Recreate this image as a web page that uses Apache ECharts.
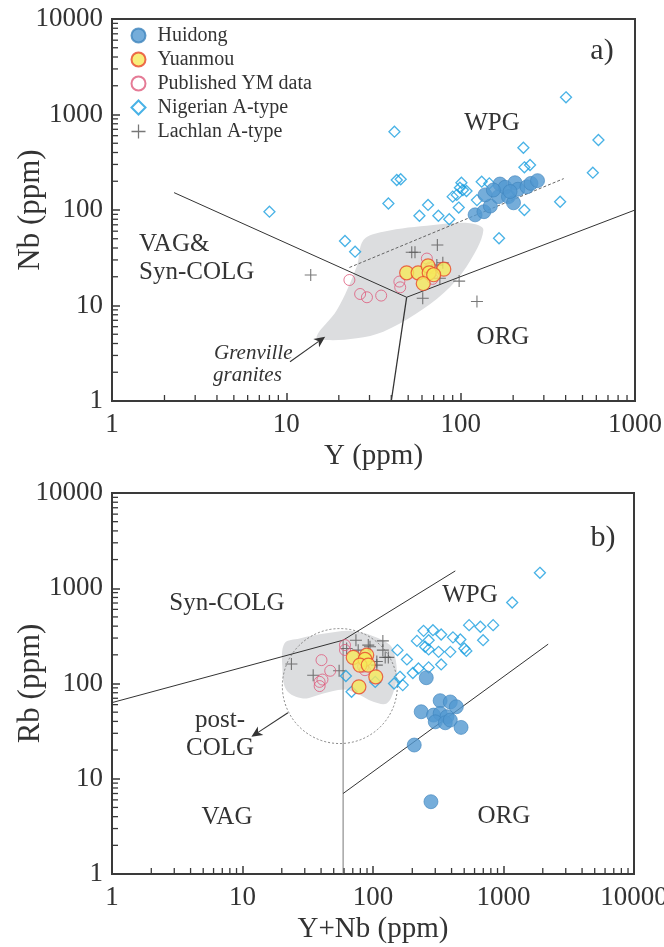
<!DOCTYPE html>
<html>
<head>
<meta charset="utf-8">
<script src="https://cdn.jsdelivr.net/npm/echarts@6/dist/echarts.min.js"></script>
<style>
html,body{margin:0;padding:0;background:#fff;}
#chart{width:664px;height:947px;}
</style>
</head>
<body>
<div id="chart"></div>
<script>
// ---------- Panel a: Nb vs Y ----------
const huidongA = [[121,89],[136,96],[148,110],[138,144],[165,138],[168,187],[180,173],[188,138],[201,119],[205,193],[213,165],[240,175],[253,190],[276,203],[192,156],[154,162]];
const yuanmouA = [[49,22],[57,22],[65,26],[66,22],[61,17],[80,24],[70,21]];
const publishedA = [[23,18.5],[26.5,13.2],[29,12.2],[35,12.7],[44.5,17.8],[45,15.5],[64,31],[69,19],[67,25]];
const nigerianA = [[41.7,661],[402,1514],[229,449],[617,541],[43,206],[45.3,210],[38.5,117],[65,113],[58,87],[74.5,87],[86,80],[97.5,106],[90,138],[95,144],[101,193],[103,162],[108,158],[99,171],[132,198],[146,190],[124,127],[232,100],[166,50.6],[232,280],[250,296],[372,122],[573,246],[21.7,47.4],[24.8,36.6],[8,96]];
const lachlanA = [[13.8,20.9],[52.4,36.1],[54.7,36.1],[73.5,43],[73,26.5],[79,28],[76,19.3],[98,18],[60.6,11.9],[124,11]];
const vagWpgA = [[2.27,152],[49,12.2]];
const orgWpgA = [[49,12.2],[1000,100]];
const vagOrgA = [[49,12.2],[40,1]];
const ormDashedA = [[23,25],[390,213]];
const grenvilleField = [[14.9,4.71],[19.5,8.97],[25.3,25.5],[27.7,48.5],[36,59.3],[69.7,69.7],[113,72.6],[135,61.7],[108,25.5],[79.6,13.4],[56,8.28],[36,5.32],[25.3,4.54],[17.1,4.35]];
const grenvilleArrow = [[10.5,2.58],[16.7,4.71]];

// ---------- Panel b: Rb vs Y+Nb ----------
const huidongB = [[256,115],[327,66],[391,64],[435,57],[234,50.5],[291,46.6],[327,48.5],[369,44.8],[300,39.6],[358,38.7],[391,41.3],[473,34.6],[207,22.6],[278,5.74]];
const yuanmouB = [[70.6,188],[89.5,199],[86.8,179],[79.4,156],[92,156],[105,117.5],[78,92.3]];
const publishedB = [[40.3,176],[47,136],[41,110],[39,94],[61,253],[61,225],[86.8,138],[39,104],[84,150]];
const nigerianB = [[1901,1452],[1166,709],[545,410],[665,394],[833,410],[698,285],[244,357],[288,363],[333,327],[217,280],[267,285],[251,243],[267,228],[318,215],[391,215],[410,305],[467,290],[501,233],[519,220],[333,158.5],[267,147.6],[223,144],[202,129],[154,224],[182,179],[161,117.5],[169,96.2],[145,100],[62,120],[68.5,81.8],[104,104]];
const lachlanB = [[23.7,160],[34.8,122],[55,136],[74,285],[62.8,233],[94.8,243],[119,280],[119,224],[131,188],[124,188],[107,156],[77,224],[92,253],[107,170]];
const synVagB = [[1,63],[59,285]];
const synWpgB = [[59,285],[427,1520]];
const vagWpgB = [[59,285],[59,1]];
const orgWpgB = [[59,7],[2200,259]];
const fieldB = [[21,264],[27.4,297],[44,336],[66.5,357],[100.5,314],[135,253],[147.6,190.6],[152,127.6],[145,85.3],[127.4,61.8],[100.5,64.3],[75,78.7],[59.1,86.7],[41.5,78.7],[29.1,69.7],[21.7,85.3],[20.2,149.6]];
const postColgCircle = [[55.7,94],[20.2,94]]; // centre, point on rim
const postColgArrow = [[22.3,49.3],[11.7,27.6]];

// axis ranges and minor tick multipliers
const xRangeA = [1,1000], yRangeA = [1,10000];
const xRangeB = [1,10000], yRangeB = [1,10000];
const minorSteps = [2,3,4,5,6,7,8,9];

const SERIF = 'Liberation Serif';
const INK = '#3a3a3a';

const names = ['Huidong','Yuanmou','Published YM data','Nigerian A-type','Lachlan A-type'];
const styles = {
  'Huidong': {symbol:'circle', symbolSize:14, itemStyle:{color:'#5299d1', borderColor:'#3f84bd', borderWidth:0.8}},
  'Yuanmou': {symbol:'circle', symbolSize:14, itemStyle:{color:'#f6ea5a', borderColor:'#e8472c', borderWidth:1.2}},
  'Published YM data': {symbol:'circle', symbolSize:11, itemStyle:{color:'none', borderColor:'#df5a7c', borderWidth:1}},
  'Nigerian A-type': {symbol:'diamond', symbolSize:11, itemStyle:{color:'none', borderColor:'#1a9fe0', borderWidth:1.3}},
  'Lachlan A-type': {symbol:'path://M4.55,0H5.45V10H4.55ZM0,4.55H10V5.45H0Z', symbolSize:12, itemStyle:{color:'#555555'}}
};
const zOrder = {'Nigerian A-type':3,'Lachlan A-type':4,'Published YM data':5,'Huidong':6,'Yuanmou':7};

function scatter(name, data, gi){
  const s = styles[name];
  return Object.assign({type:'scatter', name, data, xAxisIndex:gi, yAxisIndex:gi, z:zOrder[name], silent:true}, s);
}
function seg(data, gi, extra){
  return Object.assign({type:'line', data, xAxisIndex:gi, yAxisIndex:gi, symbol:'none', silent:true, z:2,
    lineStyle:{color:'#333', width:1}}, extra||{});
}
function polygon(points, gi){
  return {type:'custom', xAxisIndex:gi, yAxisIndex:gi, data:[[points[0][0],points[0][1]]], silent:true, z:1,
    renderItem:(p, api)=>({type:'polygon', shape:{points: points.map(pt=>api.coord(pt)), smooth:0.35},
      style:{fill:'#dcdddf', stroke:null}})};
}
function arrow(pts, gi){
  return {type:'custom', xAxisIndex:gi, yAxisIndex:gi, data:[[pts[1][0],pts[1][1]]], silent:true, z:8,
    renderItem:(p, api)=>{
      const a = api.coord(pts[0]), b = api.coord(pts[1]);
      const dx=b[0]-a[0], dy=b[1]-a[1], L=Math.hypot(dx,dy), ux=dx/L, uy=dy/L, nx=-uy, ny=ux;
      const hl=11, hw=5, notch=3;
      const base=[b[0]-ux*hl, b[1]-uy*hl];
      const mid=[b[0]-ux*(hl-notch), b[1]-uy*(hl-notch)];
      return {type:'group', children:[
        {type:'line', shape:{x1:a[0],y1:a[1],x2:mid[0],y2:mid[1]}, style:{stroke:'#333', lineWidth:1.1}},
        {type:'polygon', shape:{points:[b,[base[0]+nx*hw, base[1]+ny*hw], mid, [base[0]-nx*hw, base[1]-ny*hw]]}, style:{fill:'#333'}}
      ]};
    }};
}
function circle(c, gi){
  return {type:'custom', xAxisIndex:gi, yAxisIndex:gi, data:[[c[0][0],c[0][1]]], silent:true, z:2,
    renderItem:(p, api)=>{
      const o = api.coord(c[0]), e = api.coord(c[1]);
      return {type:'circle', shape:{cx:o[0], cy:o[1], r:Math.abs(o[0]-e[0])},
        style:{fill:null, stroke:'#777', lineWidth:0.9, lineDash:[2,2]}};
    }};
}
function minorTicks(xr, yr, gi){
  return {type:'custom', xAxisIndex:gi, yAxisIndex:gi, data:[[xr[0],yr[0]]], silent:true, z:9, clip:false,
    renderItem:(p, api)=>{
      const ch=[];
      for(let d=xr[0]; d<xr[1]; d*=10){
        minorSteps.forEach(m=>{
          const q=api.coord([d*m, yr[0]]);
          ch.push({type:'line', shape:{x1:q[0],y1:q[1],x2:q[0],y2:q[1]-6}, style:{stroke:INK, lineWidth:1.3}});
        });
      }
      for(let d=yr[0]; d<yr[1]; d*=10){
        minorSteps.forEach(m=>{
          const q=api.coord([xr[0], d*m]);
          ch.push({type:'line', shape:{x1:q[0],y1:q[1],x2:q[0]+6,y2:q[1]}, style:{stroke:INK, lineWidth:1.3}});
        });
      }
      return {type:'group', children:ch};
    }};
}

const fmt = v => String(Math.round(v));
function xAxis(r, gi, name){
  return {type:'log', logBase:10, min:r[0], max:r[1], gridIndex:gi,
    axisLine:{show:false}, axisTick:{show:true, inside:true, length:8, lineStyle:{color:INK, width:1.5}},
    minorTick:{show:false}, splitLine:{show:false},
    axisLabel:{formatter:fmt, fontFamily:SERIF, fontSize:27, color:'#333', margin:10, hideOverlap:false},
    name, nameLocation:'middle', nameGap:41, nameMoveOverlap:false,
    nameTextStyle:{fontFamily:SERIF, fontSize:29, color:'#333'}};
}
function yAxis(r, gi, name){
  return {type:'log', logBase:10, min:r[0], max:r[1], gridIndex:gi,
    axisLine:{show:false}, axisTick:{show:true, inside:true, length:8, lineStyle:{color:INK, width:1.5}},
    minorTick:{show:false}, splitLine:{show:false},
    axisLabel:{formatter:fmt, fontFamily:SERIF, fontSize:27, color:'#333', margin:9, hideOverlap:false},
    name, nameLocation:'middle', nameGap:66, nameMoveOverlap:false,
    nameTextStyle:{fontFamily:SERIF, fontSize:31, color:'#333'}};
}

function txt(text, x, y, size, opts){
  return {type:'text', x, y, z:20, style:Object.assign({text, fontFamily:SERIF, fontSize:size, fill:'#333',
    align:'center', verticalAlign:'middle'}, (opts&&opts.style)||{})};
}

const option = {
  animation:false,
  backgroundColor:'#fff',
  grid:[
    {left:112, top:19, width:523, height:382, show:true, borderColor:INK, borderWidth:2, backgroundColor:'transparent', containLabel:false, outerBoundsMode:'none'},
    {left:112, top:493, width:522, height:381, show:true, borderColor:INK, borderWidth:2, backgroundColor:'transparent', containLabel:false, outerBoundsMode:'none'}
  ],
  xAxis:[xAxis(xRangeA,0,'Y (ppm)'), xAxis(xRangeB,1,'Y+Nb (ppm)')],
  yAxis:[yAxis(yRangeA,0,'Nb (ppm)'), yAxis(yRangeB,1,'Rb (ppm)')],
  legend:{orient:'vertical', left:124, top:20, itemGap:3, itemWidth:14, itemHeight:14,
    data:names, selectedMode:false,
    textStyle:{fontFamily:SERIF, fontSize:20, color:'#333', lineHeight:21, padding:[0,0,0,7]}},
  graphic:[
    txt('a)', 602, 51, 30),
    txt('WPG', 492, 123, 25),
    txt('VAG&', 139, 244, 25, {style:{align:'left'}}),
    txt('Syn-COLG', 139, 272, 25, {style:{align:'left'}}),
    txt('ORG', 503, 337, 25),
    txt('Grenville', 214, 353, 21, {style:{align:'left', fontStyle:'italic'}}),
    txt('granites', 213, 375, 21, {style:{align:'left', fontStyle:'italic'}}),
    txt('b)', 603, 538, 30),
    txt('Syn-COLG', 227, 603, 25),
    txt('WPG', 470, 595, 25),
    txt('post-', 220, 720, 25),
    txt('COLG', 220, 748, 25),
    txt('VAG', 227, 817, 25),
    txt('ORG', 504, 816, 25)
  ],
  series:[
    polygon(grenvilleField,0),
    seg(vagWpgA,0), seg(orgWpgA,0), seg(vagOrgA,0,{lineStyle:{color:'#333',width:1.3}}),
    seg(ormDashedA,0,{lineStyle:{color:'#555', width:0.9, type:[3,2]}}),
    arrow(grenvilleArrow,0),
    minorTicks(xRangeA,yRangeA,0),
    scatter('Nigerian A-type', nigerianA, 0),
    scatter('Lachlan A-type', lachlanA, 0),
    scatter('Published YM data', publishedA, 0),
    scatter('Huidong', huidongA, 0),
    scatter('Yuanmou', yuanmouA, 0),

    polygon(fieldB,1),
    circle(postColgCircle,1),
    seg(synVagB,1), seg(synWpgB,1), seg(vagWpgB,1,{lineStyle:{color:'#777',width:1}}), seg(orgWpgB,1),
    arrow(postColgArrow,1),
    minorTicks(xRangeB,yRangeB,1),
    scatter('Nigerian A-type', nigerianB, 1),
    scatter('Lachlan A-type', lachlanB, 1),
    scatter('Published YM data', publishedB, 1),
    scatter('Huidong', huidongB, 1),
    scatter('Yuanmou', yuanmouB, 1)
  ]
};
const chart = echarts.init(document.getElementById('chart'), null, {renderer:'canvas'});
chart.setOption(option);
</script>
</body>
</html>
